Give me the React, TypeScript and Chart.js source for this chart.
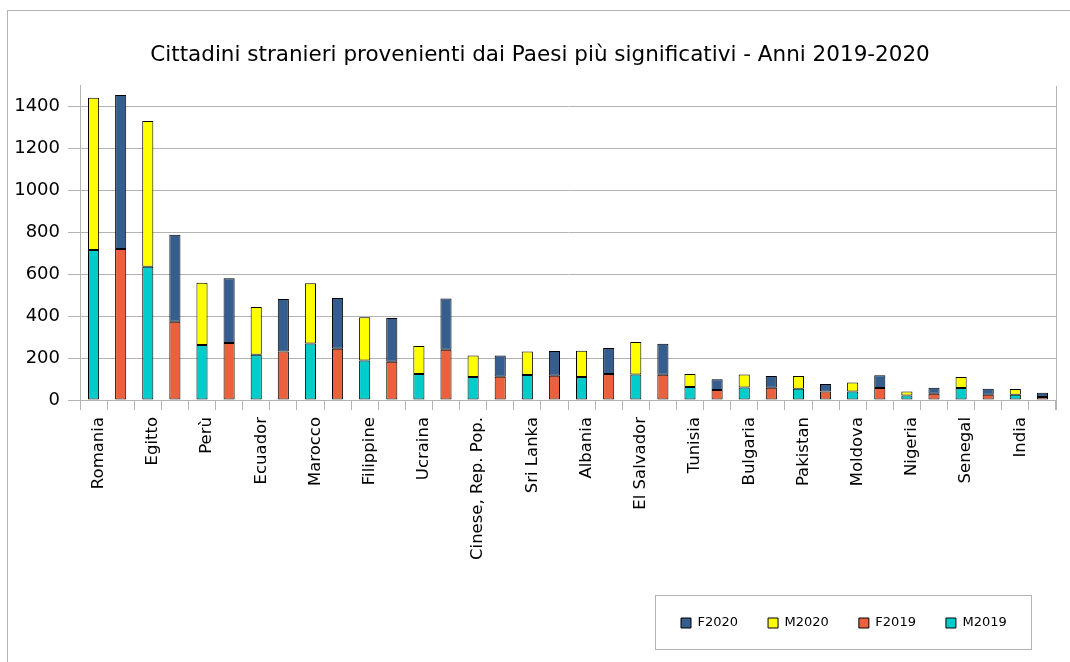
import React, { useEffect, useRef } from "react";
import { Chart, registerables } from "chart.js";

Chart.register(...registerables);

const countries = [
  "Romania", "Egitto", "Perù", "Ecuador", "Marocco", "Filippine", "Ucraina",
  "Cinese, Rep. Pop.", "Sri Lanka", "Albania", "El Salvador", "Tunisia",
  "Bulgaria", "Pakistan", "Moldova", "Nigeria", "Senegal", "India",
];
const m2019 = [716, 636, 262, 216, 270, 188, 124, 110, 119, 110, 122, 62, 60, 54, 41, 21, 57, 25];
const m2020 = [727, 696, 298, 228, 287, 207, 134, 103, 113, 125, 155, 62, 62, 61, 42, 19, 53, 27];
const f2019 = [721, 374, 272, 231, 245, 183, 240, 111, 116, 124, 121, 48, 59, 40, 57, 30, 25, 14];
const f2020 = [735, 415, 309, 251, 242, 208, 244, 102, 118, 124, 148, 51, 56, 36, 61, 29, 29, 21];
const yMax = 1500;
const yStep = 100;
const yLabelStep = 200;

const FONT = "'DejaVu Sans', sans-serif";
const GRID = "#b3b3b3";

export default function App() {
  const ref = useRef<HTMLCanvasElement | null>(null);

  useEffect(() => {
    if (!ref.current) return;
    const labels = countries.flatMap((c) => [c, ""]);
    const asM = (arr: number[]) => arr.flatMap((v) => [v, null]);
    const asF = (arr: number[]) => arr.flatMap((v) => [null, v]);
    const common = { borderColor: "#000", borderWidth: 1, borderSkipped: false as const, barPercentage: 0.41, categoryPercentage: 1 };

    const framePlugin = {
      id: "frameExtras",
      beforeDraw(chart: any) {
        if (chart.legend) {
          chart.legend.left = 651;
          chart.legend.top = 586.5;
        }
        if (chart.titleBlock) {
          chart.titleBlock.left = 24;
        }
      },
      afterDraw(chart: any) {
        const ctx = chart.ctx;
        const ca = chart.chartArea;
        ctx.save();
        ctx.strokeStyle = GRID;
        ctx.lineWidth = 1;
        const rx = Math.round(ca.right) + 0.5;
        ctx.beginPath();
        ctx.moveTo(rx, Math.round(ca.top));
        ctx.lineTo(rx, Math.round(ca.bottom) + 10);
        ctx.stroke();
        ctx.strokeRect(655.5, 595.5, 376, 54);
        ctx.restore();
      },
    };

    const chart = new Chart(ref.current, {
      type: "bar",
      data: {
        labels,
        datasets: [
          { label: "M2019", data: asM(m2019), backgroundColor: "#00cccc", ...common },
          { label: "F2019", data: asF(f2019), backgroundColor: "#eb613d", ...common },
          { label: "M2020", data: asM(m2020), backgroundColor: "#ffff00", ...common },
          { label: "F2020", data: asF(f2020), backgroundColor: "#355e8e", ...common },
        ],
      },
      options: {
        responsive: false,
        animation: false,
        devicePixelRatio: 1,
        layout: { padding: { left: 8, right: 14, top: 0, bottom: 10 } },
        plugins: {
          title: {
            display: true,
            text: "Cittadini stranieri provenienti dai Paesi più significativi - Anni 2019-2020",
            color: "#000",
            font: { family: FONT, size: 21.5, weight: "normal" },
            padding: { top: 43, bottom: 17 },
          },
          legend: {
            display: true,
            position: "bottom",
            align: "start",
            reverse: true,
            labels: {
              color: "#000",
              font: { family: FONT, size: 13 },
              boxWidth: 10,
              boxHeight: 10,
              padding: 30,
            },
          },
          tooltip: { enabled: false },
        },
        scales: {
          x: {
            stacked: true,
            offset: true,
            grid: { display: true, drawOnChartArea: false, drawTicks: true, tickLength: 10, color: GRID, offset: true },
            border: { display: true, color: GRID },
            ticks: {
              autoSkip: false,
              minRotation: 90,
              maxRotation: 90,
              padding: 7,
              labelOffset: 5,
              color: "#000",
              font: { family: FONT, size: 16.5 },
            },
            afterFit: (scale: any) => {
              scale.height = 199;
            },
          },
          y: {
            stacked: true,
            min: 0,
            max: yMax,
            grid: { color: GRID, tickLength: 12 },
            border: { display: true, color: GRID },
            ticks: {
              stepSize: yStep,
              padding: 8,
              color: "#000",
              font: { family: FONT, size: 18 },
              callback: (v: any) => (Number(v) % yLabelStep === 0 ? String(v) : ""),
            },
            afterFit: (scale: any) => {
              scale.width = 72;
            },
          },
        },
      },
      plugins: [framePlugin],
    } as any);
    return () => chart.destroy();
  }, []);

  return (
    <div style={{ position: "fixed", left: 0, top: 0, width: 1070, height: 662, overflow: "hidden", background: "#fff" }}>
      <div style={{ position: "absolute", left: 7, top: 10, width: 1200, height: 800, border: `1px solid ${GRID}` }} />
      <canvas ref={ref} width={1070} height={662} style={{ position: "absolute", left: 0, top: 0, width: 1070, height: 662 }} />
    </div>
  );
}
